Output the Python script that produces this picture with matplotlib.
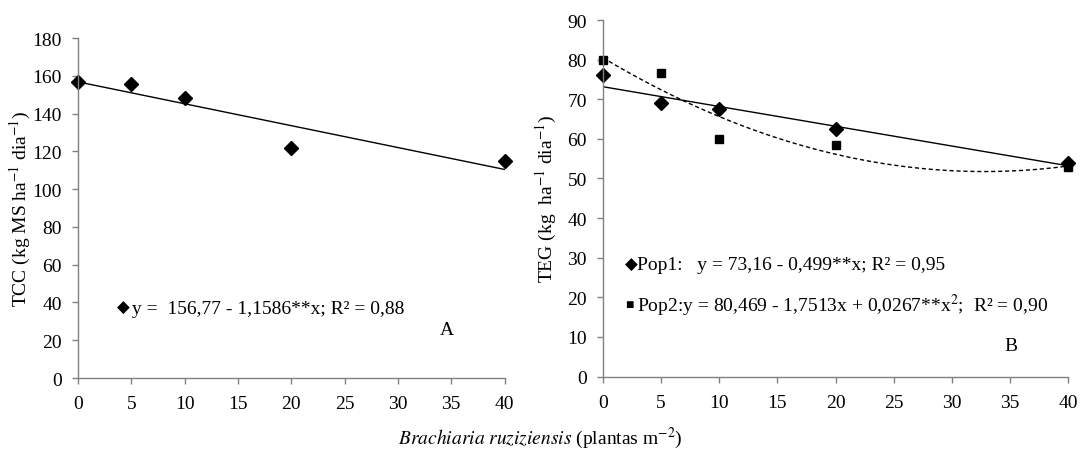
import numpy as np
import matplotlib
matplotlib.use("Agg")
import matplotlib.pyplot as plt

plt.rcParams['font.family'] = ['Liberation Serif', 'DejaVu Sans']
plt.rcParams['mathtext.fontset'] = 'stix'

# data
plantas = [0, 5, 10, 20, 40]
tcc = [156.5, 155.5, 148.0, 122.0, 115.0]
teg_pop1 = [76.0, 69.0, 67.5, 62.5, 54.0]
teg_pop2 = [80.0, 76.5, 60.0, 58.5, 53.0]

# fitted models from the equations in the chart
tcc_coef = (156.77, -1.1586)
pop1_coef = (73.16, -0.499)
pop2_coef = (80.469, -1.7513, 0.0267)

grey = '#808080'
fs = 14


def style_axes(ax, ymax, ystep):
    for s in ('top', 'right'):
        ax.spines[s].set_visible(False)
    for s in ('left', 'bottom'):
        ax.spines[s].set_color(grey)
        ax.spines[s].set_linewidth(1.0)
    ax.set_xlim(0, 40)
    ax.set_ylim(0, ymax)
    ax.set_xticks(np.arange(0, 41, 5))
    ax.set_yticks(np.arange(0, ymax + 1, ystep))
    ax.tick_params(direction='out', color=grey, length=4.5, width=1.0,
                   labelsize=fs)
    ax.tick_params(axis='x', pad=8)
    ax.tick_params(axis='y', pad=7)


fig = plt.figure(figsize=(10.81, 4.52), dpi=100)

# panel A
axA = fig.add_axes([0.0722, 0.1615, 0.3945, 0.7522])
style_axes(axA, 180, 20)
xs = np.linspace(0, 40, 100)
axA.plot(xs, tcc_coef[0] + tcc_coef[1] * xs, color='black', lw=1.0)
axA.plot(plantas, tcc, 'D', color='black', ms=7, clip_on=False)
axA.set_ylabel('TCC (kg MS ha$^{-1}$ dia$^{-1}$)', fontsize=fs, labelpad=0)
axA.text(0.092, 0.205, '\u25c6', transform=axA.transAxes, fontsize=12,
         va='center', ha='left')
axA.text(0.127, 0.205, 'y =  156,77 - 1,1586**x; R² = 0,88',
         transform=axA.transAxes, fontsize=fs, va='center', ha='left')
axA.text(0.865, 0.144, 'A', transform=axA.transAxes, fontsize=fs,
         va='center', ha='center')

# panel B
axB = fig.add_axes([0.5578, 0.1648, 0.4302, 0.7887])
style_axes(axB, 90, 10)
axB.plot(xs, pop1_coef[0] + pop1_coef[1] * xs, color='black', lw=1.0)
axB.plot(xs, pop2_coef[0] + pop2_coef[1] * xs + pop2_coef[2] * xs ** 2,
         color='black', lw=1.0, ls=(0, (3, 2)))
axB.plot(plantas, teg_pop1, 'D', color='black', ms=7, clip_on=False)
axB.plot(plantas, teg_pop2, 's', color='black', ms=6, clip_on=False)
axB.set_ylabel('TEG (kg  ha$^{-1}$ dia$^{-1}$)', fontsize=fs, labelpad=6)
axB.text(0.047, 0.3136, '\u25c6', transform=axB.transAxes, fontsize=12,
         va='center', ha='left')
axB.text(0.074, 0.3136, 'Pop1:   y = 73,16 - 0,499**x; R² = 0,95',
         transform=axB.transAxes, fontsize=fs, va='center', ha='left')
axB.text(0.047, 0.2014, '\u25a0', transform=axB.transAxes, fontsize=10,
         va='center', ha='left')
axB.text(0.074, 0.2014,
         'Pop2:y = 80,469 - 1,7513x + 0,0267**x$^{2}$;  R² = 0,90',
         transform=axB.transAxes, fontsize=fs, va='center', ha='left')
axB.text(0.878, 0.0864, 'B', transform=axB.transAxes, fontsize=fs,
         va='center', ha='center')

fig.text(0.5, 0.031, r'$\it{Brachiaria\ ruziziensis}$ (plantas m$^{-2}$)',
         fontsize=fs, ha='center', va='center')

fig.savefig('out.png', dpi=100)
